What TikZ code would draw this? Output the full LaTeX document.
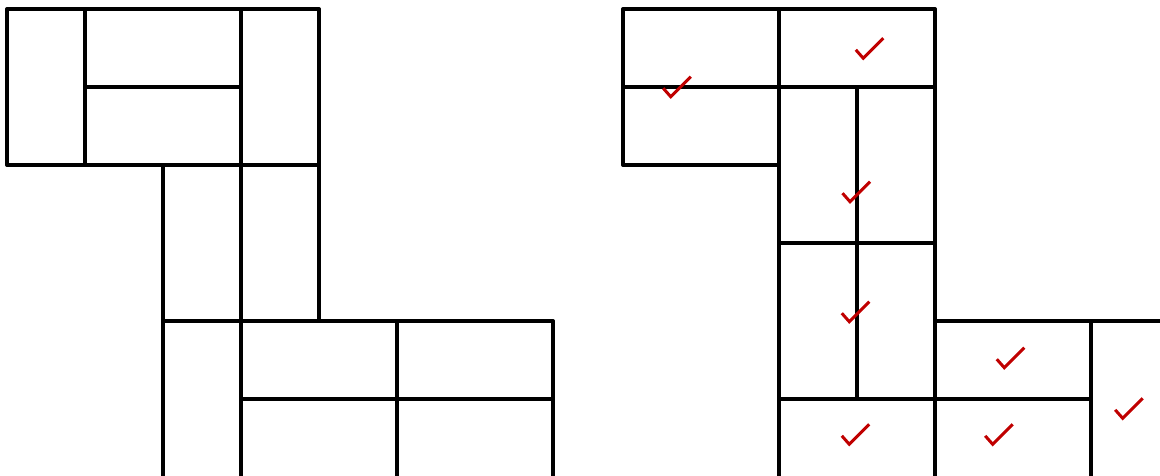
\documentclass[tikz,border=0pt]{standalone}
\begin{document}
\begin{tikzpicture}[x=1pt,y=-1pt,
  wall/.style={draw=black,line width=3.5pt,line cap=round,line join=round},
  tick/.style={draw=checkred,line width=3pt,line cap=butt,line join=miter},
  chk/.pic={\path[tick] (-7.5,-8.5) -- (0,0) -- (20,-20);}]
\definecolor{checkred}{HTML}{C00000}
\useasboundingbox (0,0) rectangle (1160,475);
\clip (0,0) rectangle (1160,475);
% ---------- left tiling ----------
\begin{scope}[shift={(7,9)},x=78pt,y=-78pt]
  \path[wall] (0,0) -- (4,0);
  \path[wall] (0,0) -- (0,2);
  \path[wall] (1,0) -- (1,2);
  \path[wall] (3,0) -- (3,6.2);
  \path[wall] (4,0) -- (4,4);
  \path[wall] (1,1) -- (3,1);
  \path[wall] (0,2) -- (4,2);
  \path[wall] (2,2) -- (2,6.2);
  \path[wall] (2,4) -- (7,4);
  \path[wall] (5,4) -- (5,6.2);
  \path[wall] (7,4) -- (7,6.2);
  \path[wall] (3,5) -- (7,5);
\end{scope}
% ---------- right tiling ----------
\begin{scope}[shift={(623,9)},x=78pt,y=-78pt]
  \path[wall] (0,0) -- (4,0);
  \path[wall] (0,0) -- (0,2);
  \path[wall] (2,0) -- (2,6.2);
  \path[wall] (4,0) -- (4,6.2);
  \path[wall] (0,1) -- (4,1);
  \path[wall] (0,2) -- (2,2);
  \path[wall] (3,1) -- (3,5);
  \path[wall] (2,3) -- (4,3);
  \path[wall] (4,4) -- (7.3,4);
  \path[wall] (6,4) -- (6,6.2);
  \path[wall] (2,5) -- (6,5);
\end{scope}
% ---------- check marks ----------
\pic at (670.7,96.7) {chk};
\pic at (863.3,58.3) {chk};
\pic at (850,201.7) {chk};
\pic at (849.3,321.7) {chk};
\pic at (1004.3,367.7) {chk};
\pic at (1122.7,418.3) {chk};
\pic at (849.3,444.3) {chk};
\pic at (992.7,444.3) {chk};
\end{tikzpicture}
\end{document}
